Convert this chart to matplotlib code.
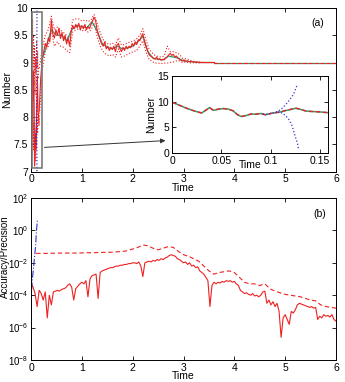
"""Population estimate over time with zoomed inset, plus accuracy/precision on a log scale."""
import numpy as np
import matplotlib
matplotlib.use("Agg")
import matplotlib.pyplot as plt
from matplotlib.patches import Rectangle
from matplotlib.ticker import FormatStrFormatter, NullLocator

plt.rcParams["font.family"] = ["Liberation Sans", "DejaVu Sans"]
plt.rcParams["font.size"] = 7.5

RED = "#ee2020"
GREEN = "#2f9a70"
BLUE = "#3434c8"

# ---- panel (a): early transient (also used in the inset) ----
ins_t = [0, 0.005, 0.01, 0.015, 0.02, 0.025, 0.03, 0.034, 0.038, 0.042,
         0.047, 0.052, 0.057, 0.062, 0.066, 0.07, 0.075, 0.08, 0.085, 0.09,
         0.095, 0.1, 0.105, 0.11, 0.115, 0.12, 0.125, 0.13, 0.135, 0.14,
         0.145, 0.15, 0.155, 0.158]
ins_est = [9.9, 9.5, 9.1, 8.7, 8.35, 8.05, 7.8, 8.3, 8.85, 8.3,
           8.55, 8.65, 8.55, 8.2, 7.5, 7.1, 7.3, 7.6, 7.55, 7.7,
           7.4, 7.7, 7.85, 8.0, 8.3, 8.5, 8.75, 8.55, 8.2, 8.1,
           8.05, 8.0, 7.9, 7.85]
ins_true = [9.9, 9.5, 9.1, 8.7, 8.35, 8.05, 7.8, 8.3, 8.85, 8.3,
            8.55, 8.65, 8.55, 8.2, 7.5, 7.1, 7.3, 7.6, 7.55, 7.7,
            7.45, 7.7, 7.85, 8.0, 8.25, 8.45, 8.7, 8.5, 8.2, 8.1,
            8.05, 8.0, 7.9, 7.85]

blue_up_t = [0.092, 0.097, 0.102, 0.107, 0.111, 0.115, 0.119, 0.123, 0.127]
blue_up = [7.5, 7.6, 7.8, 8.1, 8.6, 9.4, 10.3, 11.4, 13.4]
blue_lo_t = [0.107, 0.111, 0.115, 0.118, 0.121, 0.123, 0.125, 0.127, 0.128]
blue_lo = [8.0, 7.8, 7.3, 6.6, 5.6, 4.4, 3.1, 1.9, 0.9]

early_t = [0, 0.01, 0.02, 0.03, 0.04, 0.05, 0.06, 0.07, 0.08, 0.09,
           0.10, 0.11, 0.12, 0.13, 0.14, 0.15]
early_upper = [10.0, 9.7, 9.2, 9.8, 8.9, 9.5, 8.6, 9.3, 8.4, 9.1,
               8.8, 9.4, 8.9, 9.2, 8.7, 8.9]
early_lower = [10.0, 8.6, 8.0, 7.6, 8.3, 7.4, 7.9, 7.3, 7.6, 7.2,
               7.8, 7.5, 8.1, 7.7, 8.0, 7.9]

# ---- panel (a): rest of the run, estimate every 0.03 from t = 0.16 ----
main_t0, main_dt = 0.16, 0.03
main_est = [8.1, 8.7, 9.05, 9.2, 9.35, 9.28, 9.45, 9.38, 9.78, 9.52,
            9.45, 9.6, 9.5, 9.63, 9.44, 9.55, 9.4, 9.5, 9.34, 9.45,
            9.3, 9.56, 9.68, 9.62, 9.7, 9.64, 9.72, 9.6, 9.68, 9.62,
            9.7, 9.6, 9.66, 9.62, 9.7, 9.76, 9.83, 9.77, 9.6, 9.5,
            9.42, 9.34, 9.3, 9.38, 9.25, 9.3, 9.22, 9.28, 9.24, 9.3,
            9.2, 9.32, 9.35, 9.25, 9.2, 9.28, 9.22, 9.3, 9.25, 9.3,
            9.27, 9.35, 9.3, 9.38, 9.33, 9.42, 9.4, 9.48, 9.53, 9.4,
            9.3, 9.22, 9.15, 9.12, 9.1, 9.08, 9.06, 9.1, 9.05, 9.07,
            9.04, 9.06, 9.05, 9.08, 9.1, 9.14, 9.17, 9.13, 9.15, 9.1,
            9.12, 9.08, 9.06, 9.04, 9.03, 9.05, 9.02, 9.03, 9.02, 9.01,
            9.02, 9.01, 9.01, 9.0, 9.01, 9.0, 9.0, 9.0, 9.0, 9.0,
            9.0, 9.0, 9.0, 9.0, 9.0, 9.0]

# confidence bounds every 0.06 from t = 0.16
band_t0, band_dt = 0.16, 0.06
band_upper = [8.9, 9.25, 9.5, 9.6, 9.85, 9.6, 9.65, 9.6, 9.55, 9.5,
              9.45, 9.78, 9.8, 9.8, 9.76, 9.78, 9.75, 9.78, 9.88, 9.72,
              9.55, 9.42, 9.36, 9.33, 9.36, 9.32, 9.45, 9.32, 9.33, 9.36,
              9.38, 9.4, 9.44, 9.5, 9.62, 9.42, 9.25, 9.18, 9.13, 9.11,
              9.1, 9.12, 9.3, 9.2, 9.2, 9.18, 9.15, 9.08, 9.07, 9.05,
              9.03, 9.02, 9.01, 9.01, 9.0, 9.0, 9.0, 9.0]
band_lower = [7.9, 8.85, 9.2, 9.3, 9.6, 9.3, 9.38, 9.3, 9.28, 9.22,
              9.18, 9.56, 9.6, 9.62, 9.58, 9.6, 9.56, 9.6, 9.72, 9.48,
              9.3, 9.2, 9.15, 9.12, 9.15, 9.1, 9.25, 9.1, 9.12, 9.15,
              9.18, 9.2, 9.22, 9.3, 9.4, 9.2, 9.06, 9.02, 8.99, 8.99,
              8.98, 8.99, 8.99, 9.0, 9.01, 9.03, 9.03, 9.0, 9.01, 9.0,
              8.99, 9.0, 8.99, 9.0, 9.0, 9.0, 9.0, 9.0]

# true number every 0.1 from t = 0.2
true_t0, true_dt = 0.2, 0.1
true_num = [9.0, 9.3, 9.6, 9.5, 9.5, 9.4, 9.6, 9.68, 9.66, 9.64,
            9.75, 9.58, 9.35, 9.28, 9.25, 9.3, 9.25, 9.27, 9.3, 9.38,
            9.48, 9.2, 9.08, 9.06, 9.05, 9.12, 9.1, 9.08, 9.03, 9.02,
            9.01, 9.0, 9.0, 9.0, 9.0]

settled_t = [3.6, 6.0]
settled_num = [9.0, 9.0]

# ---- panel (b): log10 of accuracy (solid, every 0.04) ----
acc_dt = 0.04
acc_log10 = [-3.25, -3.5, -3.9, -4.7, -3.7, -3.9, -4.3, -3.8, -5.4, -4.0,
             -4.6, -3.8, -3.75, -3.7, -3.75, -3.65, -3.6, -3.55, -3.4, -3.3,
             -3.5, -4.3, -3.6, -3.45, -3.3, -3.2, -3.3, -3.1, -4.1, -3.0,
             -2.8, -2.75, -2.7, -4.2, -2.6, -2.5, -2.45, -2.4, -2.35, -2.3,
             -2.3, -2.25, -2.2, -2.2, -2.15, -2.15, -2.1, -2.1, -2.05, -2.05,
             -2.0, -2.0, -2.05, -1.95, -2.2, -2.85, -2.0, -1.95, -1.9, -1.95,
             -1.85, -1.9, -1.8, -1.85, -1.75, -1.8, -1.7, -1.65, -1.55, -1.5,
             -1.55, -1.6, -1.75, -1.8, -1.9, -2.0, -1.95, -2.1, -2.0, -2.2,
             -2.15, -2.3, -2.25, -2.5, -2.6, -2.7, -2.9, -3.1, -4.7, -3.4,
             -3.2, -3.3, -3.2, -3.25, -3.15, -3.2, -3.1, -3.15, -3.1, -3.2,
             -3.15, -3.3, -3.4, -3.7, -3.8, -3.9, -3.85, -3.95, -4.0, -3.9,
             -4.05, -4.0, -4.1, -4.0, -3.8, -3.75, -4.5, -4.3, -4.6, -4.4,
             -4.7, -4.5, -5.0, -6.6, -5.4, -5.2, -5.5, -5.8, -5.0, -5.1,
             -4.9, -4.6, -4.5, -4.55, -4.6, -4.65, -4.7, -4.75, -4.7, -4.8,
             -4.75, -5.5, -5.3, -5.4, -5.2, -5.3, -5.25, -5.35, -5.2, -5.5,
             -5.6]

# precision (dashed, every 0.1 from t = 0.1)
prec_t0, prec_dt = 0.1, 0.1
prec_log10 = [-1.42, -1.42, -1.42, -1.41, -1.41, -1.4, -1.4, -1.4, -1.4, -1.39,
              -1.38, -1.38, -1.37, -1.36, -1.35, -1.35, -1.32, -1.3, -1.25, -1.15,
              -1.05, -0.9, -0.95, -1.1, -1.2, -1.1, -1.0, -1.05, -1.3, -1.5,
              -1.6, -1.75, -1.9, -2.2, -2.5, -2.7, -2.6, -2.55, -2.5, -2.6,
              -2.9, -3.2, -3.3, -3.3, -3.4, -3.3, -3.6, -3.75, -3.85, -3.95,
              -4.0, -4.05, -4.1, -4.2, -4.3, -4.35, -4.6, -4.7, -4.75, -4.8]

# filter that diverges right at the start
div_t = [0.0, 0.0, 0.01, 0.02, 0.03, 0.05, 0.07, 0.09, 0.1, 0.11, 0.12, 0.125]
div_log10 = [-8.0, -5.5, -3.8, -3.2, -2.9, -2.3, -1.6, -1.0, -0.4, 0.1, 0.4, 0.65]


def _style(ax):
    ax.tick_params(direction="in", top=True, right=True, length=3,
                   width=0.6, pad=2, labelsize=7.5)
    for s in ax.spines.values():
        s.set_linewidth(0.7)


main_t = np.round(main_t0 + main_dt * np.arange(len(main_est)), 3)
band_t = np.round(band_t0 + band_dt * np.arange(len(band_upper)), 3)
true_t = np.round(true_t0 + true_dt * np.arange(len(true_num)), 3)
acc_t = np.round(acc_dt * np.arange(len(acc_log10)), 3)
prec_t = np.round(prec_t0 + prec_dt * np.arange(len(prec_log10)), 3)

fig = plt.figure(figsize=(3.45, 3.82), dpi=100)

# ----- (a) -----
ax = fig.add_axes([0.0899, 0.5510, 0.8840, 0.4280])
ax.plot(early_t, early_upper, ":", color=RED, lw=0.8)
ax.plot(early_t, early_lower, ":", color=RED, lw=0.8)
ax.plot(band_t, band_upper, ":", color=RED, lw=0.8)
ax.plot(band_t, band_lower, ":", color=RED, lw=0.8)
ax.plot(true_t, true_num, "-", color=GREEN, lw=0.9)
ax.plot(settled_t, settled_num, "-", color=GREEN, lw=0.9)
ax.plot(ins_t, ins_est, "-", color=RED, lw=0.8)
ax.plot(main_t, main_est, "-", color=RED, lw=0.8)
ax.plot(settled_t, settled_num, "--", color=RED, lw=0.8)
ax.plot(blue_up_t, blue_up, ":", color=BLUE, lw=0.9)
ax.plot(blue_lo_t, blue_lo, ":", color=BLUE, lw=0.9)
ax.add_patch(Rectangle((0.02, 7.07), 0.19, 2.85, fill=False,
                       edgecolor="#7a7a7a", lw=1.2, zorder=5))
ax.annotate("", xy=(2.7, 7.57), xytext=(0.21, 7.44),
            arrowprops=dict(arrowstyle="-|>", color="#333333", lw=0.7,
                            mutation_scale=7))
ax.set_xlim(0, 6)
ax.set_ylim(7, 10)
ax.set_yticks([7, 7.5, 8, 8.5, 9, 9.5, 10])
ax.yaxis.set_major_formatter(FormatStrFormatter("%g"))
ax.set_xlabel("Time", labelpad=-1)
ax.set_ylabel("Number", labelpad=1)
ax.text(0.94, 0.91, "(a)", transform=ax.transAxes, ha="center", va="center")
_style(ax)

# inset zoom of the start
ins = fig.add_axes([0.4986, 0.5995, 0.4522, 0.2016])
ins.plot(ins_t, ins_true, "-", color=GREEN, lw=1.1)
ins.plot(ins_t, ins_est, "--", color=RED, lw=1.0, dashes=(3, 2))
ins.plot(blue_up_t, blue_up, ":", color=BLUE, lw=0.9)
ins.plot(blue_lo_t, blue_lo, ":", color=BLUE, lw=0.9)
ins.set_xlim(0, 0.158)
ins.set_ylim(0, 15)
ins.set_xticks([0, 0.05, 0.1, 0.15])
ins.set_yticks([0, 5, 10, 15])
ins.xaxis.set_major_formatter(FormatStrFormatter("%g"))
ins.set_xlabel("Time", labelpad=-4)
ins.set_ylabel("Number", labelpad=1)
_style(ins)

# ----- (b) -----
bx = fig.add_axes([0.0899, 0.0576, 0.8840, 0.4241])
bx.semilogy(acc_t, 10.0 ** np.array(acc_log10), "-", color=RED, lw=0.8)
bx.semilogy(prec_t, 10.0 ** np.array(prec_log10), "--", color=RED, lw=0.8,
            dashes=(4, 2.5))
bx.semilogy(div_t, 10.0 ** np.array(div_log10), "-.", color=BLUE, lw=0.8)
bx.set_xlim(0, 6)
bx.set_ylim(1e-8, 1e2)
bx.set_yticks([1e-8, 1e-6, 1e-4, 1e-2, 1e0, 1e2])
bx.yaxis.set_minor_locator(NullLocator())
bx.tick_params(axis="y", labelsize=7)
bx.set_xlabel("Time", labelpad=-1)
bx.set_ylabel("Accuracy/Precision", fontsize=7)
bx.yaxis.set_label_coords(-0.070, 0.64)
bx.text(0.947, 0.90, "(b)", transform=bx.transAxes, ha="center", va="center")
_style(bx)
bx.tick_params(axis="y", labelsize=7)

fig.savefig("out.png", dpi=100)
plt.close(fig)
